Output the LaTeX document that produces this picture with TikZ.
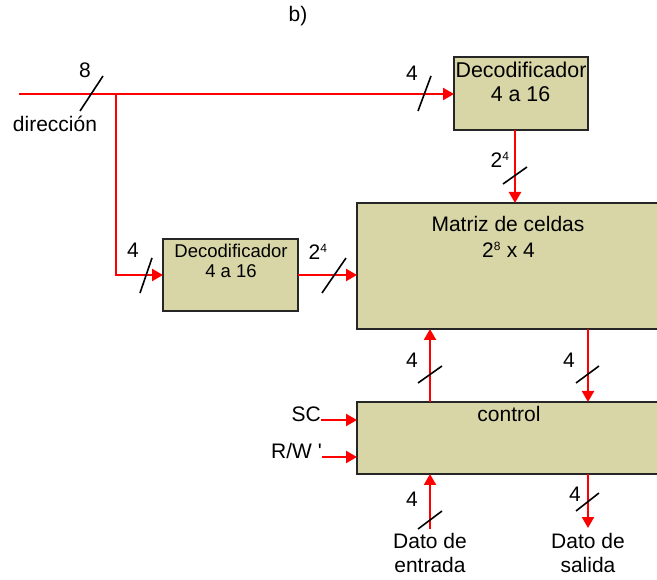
\documentclass[tikz,border=0pt]{standalone}
\usepackage{fontspec}
\setmainfont{Liberation Sans}
\usetikzlibrary{arrows.meta,calc}
\definecolor{boxfill}{RGB}{216,214,166}
\definecolor{busred}{RGB}{255,0,0}
\tikzset{
  blk/.style={draw=black!85,line width=1.8pt,fill=boxfill,inner sep=0pt,outer sep=0pt},
  wire/.style={draw=busred,line width=2.3pt},
  arr/.style={wire,-{Triangle[length=11pt,width=12pt]}},
  busmark/.style={draw=black,line width=1.6pt},
  txt/.style={font=\fontsize{21}{25}\selectfont,inner sep=0pt,anchor=base},
  smalltxt/.style={font=\fontsize{18.5}{22}\selectfont,inner sep=0pt,anchor=base},
  dectxt/.style={font=\fontsize{21.4}{25}\selectfont,inner sep=0pt,anchor=base}
}
\begin{document}
\begin{tikzpicture}[x=1pt,y=-1pt]
\useasboundingbox (0,0) rectangle (657,580);
\clip (0,0) rectangle (657,580);
% boxes
\node[blk,minimum width=134pt,minimum height=73pt] (dec1) at (521,93.5) {};
\node[blk,minimum width=135pt,minimum height=72pt] (dec2) at (230.5,275) {};
\node[blk,minimum width=323pt,minimum height=126pt] (matriz) at (518.5,266) {};
\node[blk,minimum width=323pt,minimum height=72pt] (control) at (518.5,438) {};
% box texts
\node[dectxt] (dec1a) at (521,78) {Decodificador};
\node[dectxt] (dec1b) at (520.5,102) {4 a 16};
\node[smalltxt] (dec2a) at (231,258) {Decodificador};
\node[smalltxt] (dec2b) at (231,278) {4 a 16};
\node[txt] (mata) at (508,232) {Matriz de celdas};
\node[txt] (matb) at (508.5,258) {2\textsuperscript{\fontsize{12}{14}\selectfont 8} x 4};
\node[txt] (ctrl) at (509,422) {control};
% coordinates
\coordinate (dirstart) at (19,94);
\coordinate (branch) at (116,94);
\coordinate (colA) at (430,0);
\coordinate (colB) at (588,0);
\coordinate (colC) at (515,0);
\coordinate (entrada) at (430,529);
\coordinate (salida) at (588,528);
\coordinate (sc) at (321,420);
\coordinate (rw) at (322,457);
% connectors
\draw[arr] (dirstart) -- (dirstart -| dec1.west);
\draw[arr] (branch) |- (dec2.west);
\draw[arr] (colC |- dec1.south) -- (colC |- matriz.north);
\draw[arr] (dec2.east) -- (dec2.east -| matriz.west);
\draw[arr] (colA |- control.north) -- (colA |- matriz.south);
\draw[arr] (colB |- matriz.south) -- (colB |- control.north);
\draw[arr] (entrada) -- (entrada |- control.south);
\draw[arr] (colB |- control.south) -- (salida);
\draw[arr] (sc) -- (sc -| control.west);
\draw[arr] (rw) -- (rw -| control.west);
% bus marks
\draw[busmark] (80,111) -- (103,76);
\draw[busmark] (418,111) -- (431,76);
\draw[busmark] (503,184) -- (527,167);
\draw[busmark] (140,293) -- (152,258);
\draw[busmark] (322,293) -- (346,258);
\draw[busmark] (418,383) -- (442,366);
\draw[busmark] (576,383) -- (599,366);
\draw[busmark] (418,529) -- (442,511);
\draw[busmark] (576,511) -- (599,493);
% labels
\node[txt] (lb) at (298,22) {b)};
\node[txt] (l8) at (85,78) {8};
\node[txt] (ldir) at (55,132) {dirección};
\node[txt] (l4a) at (412,81) {4};
\node[txt] (l24a) at (500,168) {2\textsuperscript{\fontsize{12}{14}\selectfont 4}};
\node[txt] (l4b) at (133,258) {4};
\node[txt] (l24b) at (318,260) {2\textsuperscript{\fontsize{12}{14}\selectfont 4}};
\node[txt] (l4c) at (412,368) {4};
\node[txt] (l4d) at (569,368) {4};
\node[txt] (l4e) at (412,507) {4};
\node[txt] (l4f) at (575,502) {4};
\node[txt,anchor=base east] (lsc) at (321,422) {SC};
\node[txt,anchor=base east] (lrw) at (322,459) {R/W \textquotesingle};
\node[txt] (lea) at (430,548) {Dato de};
\node[txt] (leb) at (430,572) {entrada};
\node[txt] (lsa) at (588,548) {Dato de};
\node[txt] (lsb) at (588,572) {salida};
\end{tikzpicture}
\end{document}
